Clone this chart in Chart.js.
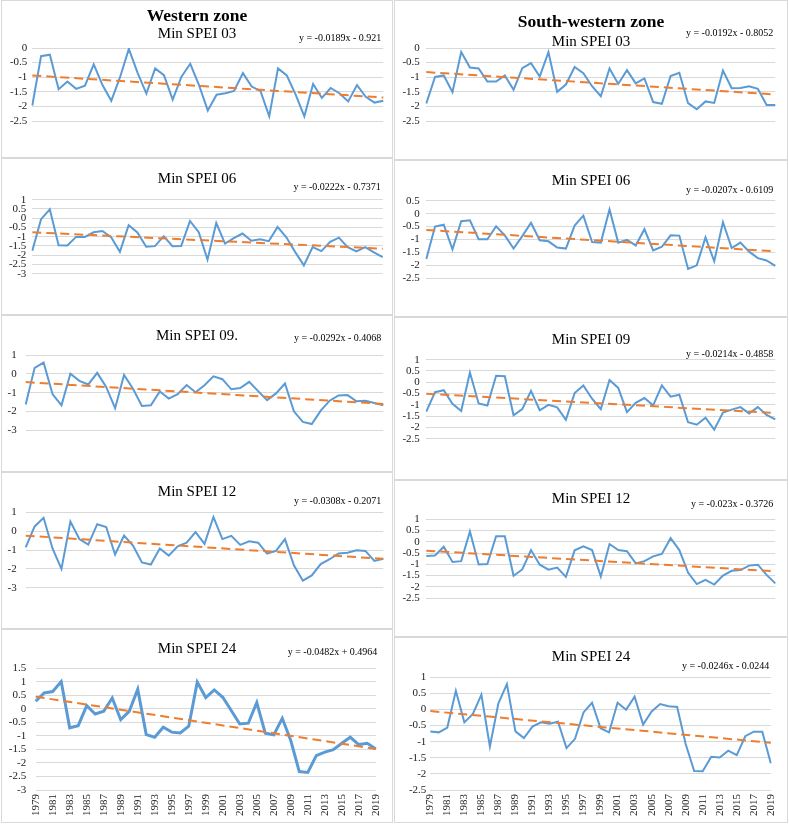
<!DOCTYPE html>
<html><head><meta charset="utf-8">
<script src="https://cdn.jsdelivr.net/npm/chart.js@4.4.0/dist/chart.umd.min.js"></script>
<style>
html,body{margin:0;padding:0;background:#fff;}
body{width:789px;height:825px;position:relative;overflow:hidden;font-family:'Liberation Serif','Times New Roman',serif;color:#000;}
.panel{position:absolute;box-sizing:border-box;border:1px solid #d9d9d9;}
canvas{position:absolute;}
.t{position:absolute;text-align:center;white-space:nowrap;line-height:20px;height:20px;font-size:15px;}
.z{position:absolute;text-align:center;white-space:nowrap;line-height:22px;height:22px;font-size:17.5px;font-weight:bold;}
.eq{position:absolute;text-align:right;white-space:nowrap;font-size:10px;line-height:12px;height:12px;}
</style></head><body>
<script>
// ---- DATA ----
const years = ["1979","1980","1981","1982","1983","1984","1985","1986","1987","1988","1989","1990","1991","1992","1993","1994","1995","1996","1997","1998","1999","2000","2001","2002","2003","2004","2005","2006","2007","2008","2009","2010","2011","2012","2013","2014","2015","2016","2017","2018","2019"];

const west03 = [-1.97,-0.28,-0.23,-1.41,-1.15,-1.40,-1.29,-0.56,-1.27,-1.81,-1.00,-0.03,-0.85,-1.56,-0.70,-0.93,-1.77,-0.98,-0.54,-1.27,-2.14,-1.60,-1.55,-1.47,-0.86,-1.32,-1.47,-2.34,-0.70,-0.94,-1.59,-2.34,-1.23,-1.71,-1.37,-1.55,-1.83,-1.27,-1.67,-1.87,-1.81];
const sw03 = [-1.90,-0.99,-0.94,-1.51,-0.14,-0.67,-0.70,-1.15,-1.15,-0.94,-1.43,-0.69,-0.52,-0.98,-0.14,-1.50,-1.25,-0.65,-0.86,-1.31,-1.65,-0.70,-1.23,-0.76,-1.21,-1.04,-1.85,-1.91,-0.96,-0.85,-1.89,-2.10,-1.83,-1.88,-0.77,-1.38,-1.37,-1.31,-1.40,-1.95,-1.95];
const west06 = [-1.76,-0.05,0.48,-1.46,-1.47,-1.01,-1.01,-0.76,-0.69,-1.03,-1.82,-0.38,-0.77,-1.54,-1.51,-0.97,-1.51,-1.50,-0.15,-0.76,-2.24,-0.26,-1.37,-1.08,-0.83,-1.22,-1.14,-1.24,-0.47,-1.03,-1.82,-2.55,-1.56,-1.78,-1.28,-1.05,-1.56,-1.79,-1.56,-1.85,-2.10];
const sw06 = [-1.75,-0.50,-0.43,-1.38,-0.29,-0.26,-0.99,-0.99,-0.49,-0.84,-1.35,-0.87,-0.35,-1.03,-1.07,-1.31,-1.35,-0.46,-0.08,-1.10,-1.12,0.16,-1.12,-1.01,-1.23,-0.60,-1.42,-1.28,-0.84,-0.85,-2.14,-2.00,-0.92,-1.84,-0.33,-1.33,-1.12,-1.47,-1.72,-1.81,-2.02];
const west09 = [-1.64,0.33,0.61,-1.08,-1.68,0.01,-0.37,-0.56,0.06,-0.69,-1.83,-0.05,-0.79,-1.71,-1.68,-0.94,-1.32,-1.08,-0.59,-0.98,-0.60,-0.13,-0.28,-0.82,-0.75,-0.42,-0.92,-1.40,-1.04,-0.51,-2.00,-2.57,-2.68,-1.96,-1.43,-1.15,-1.13,-1.46,-1.43,-1.55,-1.68];
const sw09 = [-1.30,-0.44,-0.35,-0.95,-1.27,0.43,-0.94,-1.03,0.29,0.27,-1.46,-1.19,-0.38,-1.24,-1.00,-1.11,-1.66,-0.48,-0.14,-0.73,-1.19,0.10,-0.25,-1.32,-0.91,-0.70,-1.02,-0.14,-0.64,-0.55,-1.77,-1.88,-1.57,-2.10,-1.34,-1.21,-1.10,-1.38,-1.10,-1.45,-1.64];
const west12 = [-0.86,0.25,0.71,-0.92,-2.00,0.51,-0.42,-0.71,0.37,0.22,-1.24,-0.23,-0.76,-1.66,-1.77,-0.92,-1.30,-0.80,-0.61,-0.05,-0.67,0.75,-0.42,-0.25,-0.73,-0.54,-0.61,-1.19,-1.05,-0.42,-1.81,-2.63,-2.35,-1.75,-1.49,-1.18,-1.15,-1.01,-1.05,-1.58,-1.46];
const sw12 = [-0.63,-0.61,-0.22,-0.90,-0.86,0.46,-1.01,-0.99,0.25,0.25,-1.51,-1.23,-0.37,-1.02,-1.24,-1.15,-1.56,-0.38,-0.20,-0.37,-1.54,-0.10,-0.37,-0.42,-0.96,-0.86,-0.65,-0.54,0.16,-0.37,-1.37,-1.88,-1.69,-1.90,-1.50,-1.29,-1.26,-1.06,-1.02,-1.47,-1.85];
const west24 = [0.28,0.59,0.64,1.01,-0.70,-0.62,0.12,-0.19,-0.09,0.40,-0.40,-0.09,0.73,-0.95,-1.05,-0.68,-0.86,-0.89,-0.64,0.99,0.42,0.70,0.43,-0.06,-0.56,-0.53,0.23,-0.90,-0.96,-0.35,-1.17,-2.32,-2.35,-1.73,-1.60,-1.51,-1.27,-1.05,-1.32,-1.27,-1.48];
const sw24 = [-0.68,-0.71,-0.56,0.58,-0.40,-0.14,0.46,-1.15,0.19,0.79,-0.68,-0.89,-0.53,-0.40,-0.44,-0.38,-1.20,-0.91,-0.09,0.21,-0.58,-0.71,0.21,-0.01,0.40,-0.47,-0.06,0.17,0.10,0.08,-1.07,-1.91,-1.92,-1.47,-1.49,-1.28,-1.42,-0.83,-0.69,-0.69,-1.67];

const zoneTitles = ["Western zone", "South-western zone"];
const panelTitles = ["Min SPEI 03","Min SPEI 03","Min SPEI 06","Min SPEI 06","Min SPEI 09.","Min SPEI 09","Min SPEI 12","Min SPEI 12","Min SPEI 24","Min SPEI 24"];
const trendSlopes = [-0.0189,-0.0192,-0.0222,-0.0207,-0.0292,-0.0214,-0.0308,-0.023,-0.0482,-0.0246];
const trendIntercepts = [-0.921,-0.8052,-0.7371,-0.6109,-0.4068,-0.4858,-0.2071,-0.3726,0.4964,-0.0244];
const eqLabels = ["y = -0.0189x - 0.921","y = -0.0192x - 0.8052","y = -0.0222x - 0.7371","y = -0.0207x - 0.6109","y = -0.0292x - 0.4068","y = -0.0214x - 0.4858","y = -0.0308x - 0.2071","y = -0.023x - 0.3726","y = -0.0482x + 0.4964","y = -0.0246x - 0.0244"];
const yMax = [0,0,1,0.5,1,1,1,1,1.5,1];
const yMin = [-2.5,-2.5,-3,-2.5,-3,-2.5,-3,-2.5,-3,-2.5];
const yStep = [0.5,0.5,0.5,0.5,1,0.5,1,0.5,0.5,0.5];

const series = [west03, sw03, west06, sw06, west09, sw09, west12, sw12, west24, sw24];

// ---- LAYOUT (positions only) ----
const geom = [
 {box:[1,0,392,158],   l:32.3, r:383.3, t:48,    b:151,   ty:33,    ey:38,    tp:5},
 {box:[394,0,394,160], l:426.3,r:775.3, t:48,    b:151,   ty:41,    ey:33,    tp:6.5},
 {box:[1,158,392,157], l:32.3, r:382.7, t:199.7, b:303.7, ty:178,   ey:187,   tp:6},
 {box:[394,160,394,157],l:426.3,r:775.3,t:200.7, b:308.3, ty:179.7, ey:190,   tp:6.5},
 {box:[1,315,392,157], l:25.7, r:383.3, t:355.3, b:460,   ty:335,   ey:338,   tp:9},
 {box:[394,317,394,163],l:426.3,r:775.3,t:359.7, b:468.7, ty:338.7, ey:353.7, tp:6.5},
 {box:[1,472,392,157], l:25.7, r:383.3, t:512.3, b:617.7, ty:491,   ey:501,   tp:9},
 {box:[394,480,394,157],l:426.3,r:775.3,t:519.3, b:628,   ty:497.7, ey:504,   tp:6.5},
 {box:[1,629,392,194], l:35.7, r:379.3, t:668.3, b:790,   ty:648,   ey:652,   tp:9.5},
 {box:[394,637,394,186],l:430.3,r:771.3,t:677.3, b:790,   ty:656,   ey:665.7, tp:4}
];
const zoneY = [15, 21];
const FONT = "'Liberation Serif','Times New Roman',serif";
const XH = 30;

function addDiv(cls, text, css){
  const d = document.createElement('div');
  d.className = cls; d.textContent = text;
  Object.assign(d.style, css);
  document.body.appendChild(d);
  return d;
}

series.forEach((vals, i) => {
  const g = geom[i];
  const [bx, by, bw, bh] = g.box;
  const p = document.createElement('div');
  p.className = 'panel';
  Object.assign(p.style, {left:bx+'px', top:by+'px', width:bw+'px', height:bh+'px'});
  document.body.appendChild(p);

  const cv = document.createElement('canvas');
  cv.width = bw; cv.height = bh;
  Object.assign(cv.style, {left:bx+'px', top:by+'px', width:bw+'px', height:bh+'px'});
  document.body.appendChild(cv);

  const bottomAxis = i >= 8;
  const n = years.length;
  const trend = years.map((_, k) => (k === 0 || k === n - 1) ? trendSlopes[i] * (k + 1) + trendIntercepts[i] : null);

  new Chart(cv, {
    type: 'line',
    data: {
      labels: years,
      datasets: [
        {data: trend, borderColor:'#ED7D31', borderWidth:2, borderDash:[9,5], pointRadius:0, spanGaps:true, order:0, fill:false},
        {data: vals, borderColor:'#5B9BD5', borderWidth: i === 8 ? 3 : 2, pointRadius:0, tension:0, order:1, fill:false}
      ]
    },
    options: {
      responsive:false, animation:false, devicePixelRatio:1,
      layout:{padding:{left:0, top:g.t - by, right:(bx + bw) - g.r, bottom:(by + bh) - g.b - (bottomAxis ? XH : 0)}},
      plugins:{legend:{display:false}, tooltip:{enabled:false}, title:{display:false}},
      scales:{
        x:{
          display: bottomAxis, offset:false,
          grid:{display:false, drawTicks:false}, border:{display:false},
          ticks:{autoSkip:false, minRotation:90, maxRotation:90, padding:4, color:'#222', font:{family:FONT, size:11},
            callback:function(v, idx){ return idx % 2 === 0 ? this.getLabelForValue(v) : ''; }},
          afterFit: a => { a.height = XH; }
        },
        y:{
          min:yMin[i], max:yMax[i],
          grid:{color:'#d9d9d9', lineWidth:1, drawTicks:false}, border:{display:false},
          ticks:{stepSize:yStep[i], autoSkip:false, padding:g.tp, color:'#222', font:{family:FONT, size:11},
            callback: v => String(Math.round(v * 10) / 10)},
          afterFit: a => { a.width = g.l - bx; }
        }
      }
    }
  });

  addDiv('t', panelTitles[i], {left:bx+'px', width:bw+'px', top:(g.ty - 10)+'px'});
  addDiv('eq', eqLabels[i], {left:(bx)+'px', width:(g.r - 2 - bx)+'px', top:(g.ey - 6)+'px'});
  if (i < 2) addDiv('z', zoneTitles[i], {left:bx+'px', width:bw+'px', top:(zoneY[i] - 11)+'px'});
});
</script>
</body></html>
